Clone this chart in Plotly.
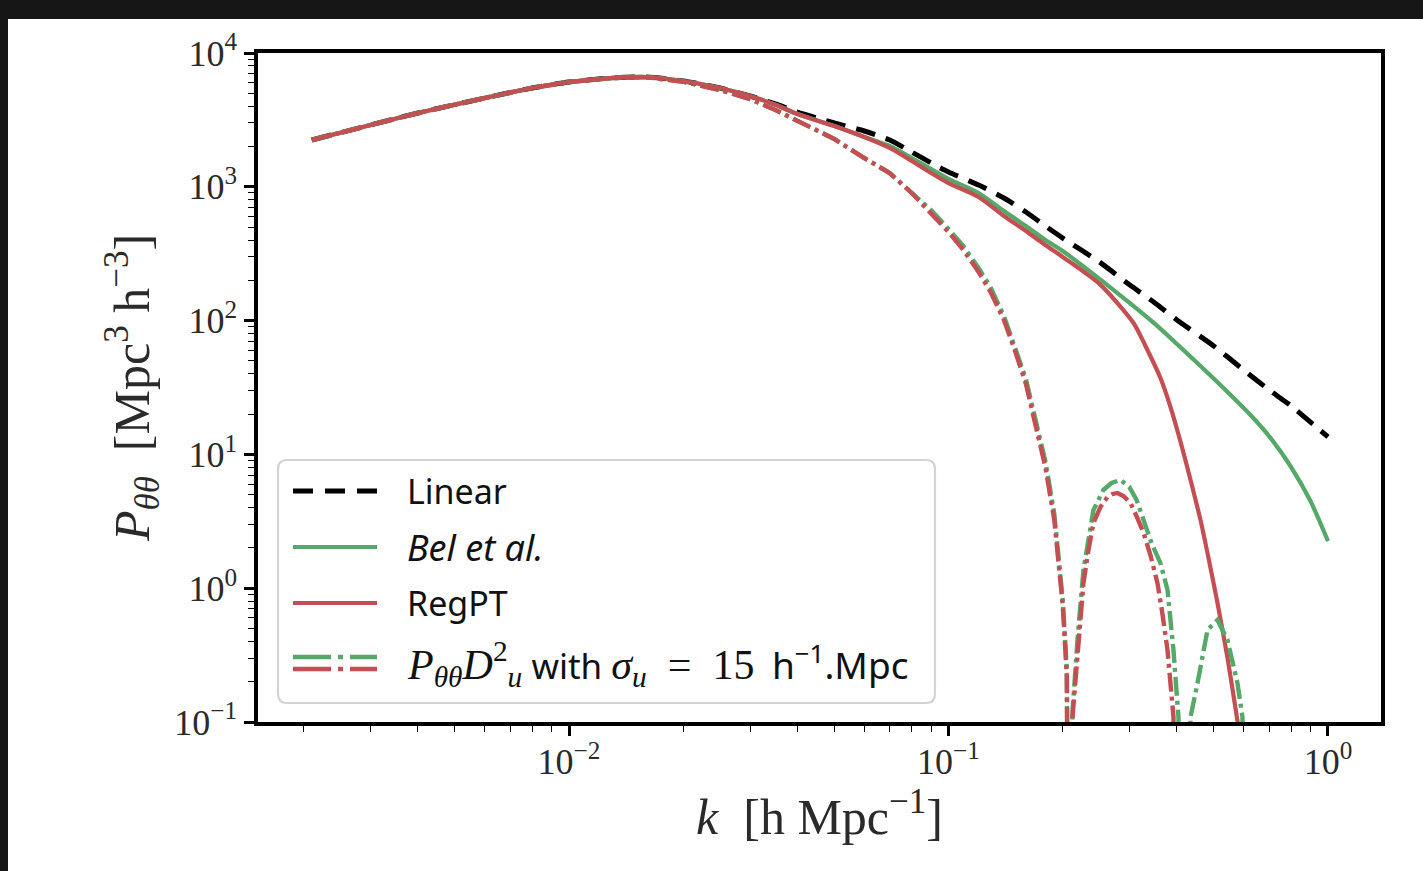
import plotly.graph_objects as go

# ---------------- data ----------------
k_linear = [0.0021, 0.003, 0.004, 0.006, 0.008, 0.01, 0.013, 0.016, 0.02, 0.025, 0.03,
            0.035, 0.04, 0.05, 0.06, 0.07, 0.08, 0.09, 0.1, 0.12, 0.14, 0.16, 0.18, 0.2,
            0.25, 0.3, 0.35, 0.4, 0.5, 0.6, 0.7, 0.8, 1.0]
P_linear = [2239, 2897, 3562, 4611, 5474, 6073, 6505, 6619, 6180, 5474, 4771,
            4159, 3622, 2999, 2612, 2239, 1820, 1507, 1290, 1031, 825, 648, 509, 414,
            274, 185, 135.5, 101, 64.6, 42.7, 30.3, 23.0, 13.5]

k_bel = [0.0021, 0.003, 0.004, 0.006, 0.008, 0.01, 0.013, 0.016, 0.02, 0.025, 0.03,
         0.035, 0.04, 0.05, 0.06, 0.07, 0.08, 0.09, 0.1, 0.12, 0.14, 0.16, 0.18, 0.2,
         0.25, 0.3, 0.35, 0.4, 0.4613, 0.537, 0.6249, 0.7054, 0.7963, 0.8992, 1.0]
P_bel = [2239, 2897, 3562, 4611, 5474, 6073, 6505, 6619, 6180, 5474, 4771,
         4100, 3499, 2847, 2356, 2018, 1641, 1359, 1144, 899, 659, 509, 400, 331,
         205, 135.5, 94.4, 66.8, 45.8, 30.3, 19.7, 13.3, 8.19, 4.48, 2.25]

k_regpt = [0.0021, 0.003, 0.004, 0.006, 0.008, 0.01, 0.013, 0.016, 0.02, 0.025, 0.03,
           0.035, 0.04, 0.05, 0.06, 0.07, 0.08, 0.09, 0.1, 0.12, 0.14, 0.16, 0.18, 0.2,
           0.25, 0.3073, 0.3304, 0.3619, 0.3846, 0.4088, 0.4343, 0.4613, 0.4844,
           0.5115, 0.5435, 0.5705, 0.6]
P_regpt = [2239, 2897, 3562, 4611, 5474, 6073, 6505, 6619, 6180, 5474, 4771,
           4100, 3499, 2847, 2356, 1950, 1559, 1268, 1067, 839, 605, 467, 367, 299,
           188, 95.9, 64.6, 37.2, 22.6, 12.4, 6.44, 3.24, 1.68,
           0.775, 0.301, 0.127, 0.050]

k_bel_damped = [0.0021, 0.003, 0.004, 0.006, 0.008, 0.01, 0.013, 0.016, 0.02, 0.025, 0.03,
                0.035, 0.04, 0.05, 0.06, 0.07, 0.08, 0.09, 0.1, 0.1095, 0.12, 0.129, 0.14,
                0.1501, 0.16, 0.1695, 0.18, 0.19, 0.2, 0.205, 0.2094,
                0.2122, 0.2187, 0.2268, 0.241, 0.2559, 0.2688, 0.2839, 0.2997, 0.3131,
                0.3427, 0.3619, 0.3777, 0.3916, 0.4036, 0.4109,
                0.4343, 0.453, 0.4815, 0.5115, 0.5435, 0.5774, 0.5952, 0.606]
P_bel_damped = [2239, 2897, 3562, 4611, 5474, 6073, 6505, 6600, 6100, 5290, 4529,
                3750, 3104, 2277, 1641, 1268, 899, 671, 484, 360, 247, 178, 108,
                63.0, 36.5, 18.2, 8.9, 3.6, 0.82, 0.25, 1e-5,
                0.119, 0.41, 1.37, 3.84, 5.42, 6.11, 6.44, 5.70, 4.56,
                2.18, 1.54, 0.97, 0.345, 0.109, 1e-5,
                0.109, 0.195, 0.488, 0.578, 0.41, 0.195, 0.109, 1e-5]

k_regpt_damped = [0.0021, 0.003, 0.004, 0.006, 0.008, 0.01, 0.013, 0.016, 0.02, 0.025, 0.03,
                  0.035, 0.04, 0.05, 0.06, 0.07, 0.08, 0.09, 0.1, 0.1095, 0.12, 0.129, 0.14,
                  0.1501, 0.16, 0.1695, 0.18, 0.19, 0.2, 0.205, 0.2094,
                  0.2122, 0.2187, 0.2268, 0.2338, 0.241, 0.2515, 0.2624, 0.2704, 0.2788,
                  0.2891, 0.3017, 0.313, 0.3265, 0.3405, 0.3554, 0.3663, 0.3777, 0.3916, 0.397]
P_regpt_damped = [2239, 2897, 3562, 4611, 5474, 6073, 6505, 6600, 6100, 5290, 4529,
                  3750, 3104, 2277, 1641, 1268, 899, 637, 459, 337, 231, 164, 101,
                  58.2, 33.6, 16.6, 8.05, 3.24, 0.748, 0.224, 1e-5,
                  0.109, 0.345, 1.09, 1.93, 3.07, 4.05, 4.81, 5.06, 5.15,
                  4.89, 4.33, 3.46, 2.59, 1.77, 1.09, 0.641, 0.345, 0.109, 1e-5]

x_tickvals = [0.01, 0.1, 1]
x_ticktext = ["10<sup>−2</sup>", "10<sup>−1</sup>", "10<sup>0</sup>"]
y_tickvals = [0.1, 1, 10, 100, 1000, 10000]
y_ticktext = ["10<sup>−1</sup>", "10<sup>0</sup>", "10<sup>1</sup>",
              "10<sup>2</sup>", "10<sup>3</sup>", "10<sup>4</sup>"]

legend_labels = ["Linear", "<i>Bel et al.</i>", "RegPT"]

# ---------------- styles ----------------
GREEN = "#55A868"
RED = "#C44E52"
BLACK = "#000000"
SERIF = "Liberation Serif"
SANS = "Noto Sans"
DASH_BLACK = "20px,11px"
DASH_DD = "19px,5px,4px,5px"

fig = go.Figure()
fig.add_trace(go.Scatter(x=k_linear, y=P_linear, mode="lines", name="Linear",
                         line=dict(color=BLACK, width=5, dash=DASH_BLACK, shape="spline", smoothing=0.6)))
fig.add_trace(go.Scatter(x=k_bel, y=P_bel, mode="lines", name="Bel et al.",
                         line=dict(color=GREEN, width=4.2, shape="spline", smoothing=0.7)))
fig.add_trace(go.Scatter(x=k_regpt, y=P_regpt, mode="lines", name="RegPT",
                         line=dict(color=RED, width=4.2, shape="spline", smoothing=0.7)))
fig.add_trace(go.Scatter(x=k_bel_damped, y=P_bel_damped, mode="lines", name="Bel et al. damped",
                         line=dict(color=GREEN, width=4.4, dash=DASH_DD)))
fig.add_trace(go.Scatter(x=k_regpt_damped, y=P_regpt_damped, mode="lines", name="RegPT damped",
                         line=dict(color=RED, width=4.4, dash=DASH_DD)))

# ---------------- axes ----------------
PL, PR, PT, PB = 258, 1381, 53, 722   # plot area in pixels
W, H = 1423, 871
pw, ph = PR - PL, PB - PT

def px(xpix):
    return (xpix - PL) / pw

def py(ypix):
    return (PB - ypix) / ph

x_minor = [m * 10.0 ** e for e in range(-3, 1) for m in range(2, 10)]
y_minor = [m * 10.0 ** e for e in range(-1, 4) for m in range(2, 10)]

fig.update_xaxes(type="log", range=[-2.8195, 0.1397],
                 tickmode="array", tickvals=x_tickvals, ticktext=x_ticktext,
                 showline=True, linewidth=3.5, linecolor="black", mirror=True,
                 ticks="outside", ticklen=10, tickwidth=2.5, tickcolor="black",
                 ticklabelstandoff=-5,
                 minor=dict(tickmode="array", tickvals=x_minor, ticks="outside",
                            ticklen=6, tickwidth=1.3, tickcolor="black", showgrid=False),
                 showgrid=False, zeroline=False,
                 tickfont=dict(family=SERIF, size=36, color="#2a2a2a"),
                 title=dict(text="<i>k</i>  [h Mpc<sup>−1</sup>]",
                            font=dict(family=SERIF, size=50, color="#2a2a2a"), standoff=0))
fig.update_yaxes(type="log", range=[-1, 4],
                 tickmode="array", tickvals=y_tickvals, ticktext=y_ticktext,
                 showline=True, linewidth=3.5, linecolor="black", mirror=True,
                 ticks="outside", ticklen=10, tickwidth=2.5, tickcolor="black",
                 minor=dict(tickmode="array", tickvals=y_minor, ticks="outside",
                            ticklen=6, tickwidth=1.3, tickcolor="black", showgrid=False),
                 showgrid=False, zeroline=False,
                 tickfont=dict(family=SERIF, size=36, color="#2a2a2a"),
                 title=dict(text="<i>P</i><sub><i>θθ</i></sub>  [Mpc<sup>3</sup> h<sup>−3</sup>]",
                            font=dict(family=SERIF, size=50, color="#2a2a2a"), standoff=10))

# ---------------- frame (dark screenshot border) ----------------
shapes = []
DARK = "#161616"
shapes.append(dict(type="rect", xref="paper", yref="paper", layer="above",
                   x0=px(0), x1=px(W), y0=py(19), y1=py(0),
                   fillcolor=DARK, line=dict(width=0)))
shapes.append(dict(type="rect", xref="paper", yref="paper", layer="above",
                   x0=px(0), x1=px(8), y0=py(H), y1=py(0),
                   fillcolor=DARK, line=dict(width=0)))

# ---------------- manual legend ----------------
bx0, bx1, by0, by1, r = 278, 935, 460, 703, 9
rx, ry = r / pw, r / ph
X0, X1, Y0, Y1 = px(bx0), px(bx1), py(by1), py(by0)
path = (f"M{X0+rx},{Y0} L{X1-rx},{Y0} Q{X1},{Y0} {X1},{Y0+ry} L{X1},{Y1-ry} "
        f"Q{X1},{Y1} {X1-rx},{Y1} L{X0+rx},{Y1} Q{X0},{Y1} {X0},{Y1-ry} "
        f"L{X0},{Y0+ry} Q{X0},{Y0} {X0+rx},{Y0} Z")
shapes.append(dict(type="path", xref="paper", yref="paper", path=path, layer="above",
                   fillcolor="rgba(255,255,255,0.85)", line=dict(color="#d3d3d3", width=2.2)))

sx0, sx1 = px(293), px(377)
rows = [491, 547, 603]
row_sizes = [34, 36, 34]
row_styles = [(BLACK, "20px,12px", 5), (GREEN, "solid", 4.2), (RED, "solid", 4.2)]
for yy, (c, d, w) in zip(rows, row_styles):
    shapes.append(dict(type="line", xref="paper", yref="paper", layer="above",
                       x0=sx0, x1=sx1, y0=py(yy), y1=py(yy),
                       line=dict(color=c, width=w, dash=d)))
for yy, c in [(657, GREEN), (669, RED)]:
    shapes.append(dict(type="line", xref="paper", yref="paper", layer="above",
                       x0=sx0, x1=sx1, y0=py(yy), y1=py(yy),
                       line=dict(color=c, width=4.4, dash="38px,7px,5px,7px")))

annotations = []
for yy, txt, sz in zip(rows, legend_labels, row_sizes):
    annotations.append(dict(xref="paper", yref="paper", x=px(405), y=py(yy),
                            xanchor="left", yanchor="middle", showarrow=False, text=txt,
                            font=dict(family=SANS, size=sz, color="#111")))
math_txt = (f"<span style='font-family:{SERIF};font-size:42px'><i>P</i><sub><i>θθ</i></sub><i>D</i>"
            f"<sup>2</sup><sub><i>u</i></sub></span> with "
            f"<span style='font-family:{SERIF};font-size:42px'><i>σ</i><sub><i>u</i></sub>"
            f"\u2002=\u200215</span>\u2002<span style='font-size:37px'>h<sup>−1</sup>.Mpc</span>")
annotations.append(dict(xref="paper", yref="paper", x=px(405), y=py(664),
                        xanchor="left", yanchor="middle", showarrow=False, text=math_txt,
                        font=dict(family=SANS, size=35, color="#111")))

fig.update_layout(width=W, height=H, margin=dict(l=PL, r=W - PR, t=PT, b=H - PB),
                  paper_bgcolor="white", plot_bgcolor="white", showlegend=False,
                  shapes=shapes, annotations=annotations)

fig.write_html("out.html",
               post_script="document.body.style.margin='0';"
                           "document.body.style.overflow='hidden';"
                           "document.documentElement.style.overflow='hidden';")
